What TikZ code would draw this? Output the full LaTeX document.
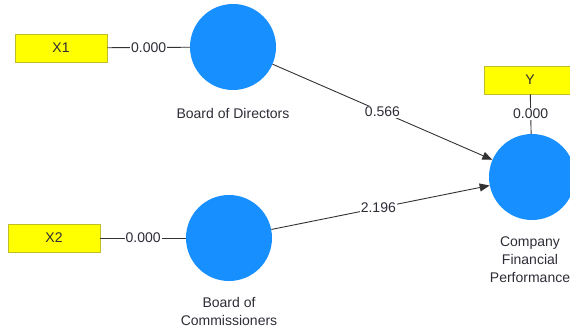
\documentclass[tikz,border=0pt]{standalone}
\usepackage{fontspec}
\setmainfont{Liberation Sans}
\usetikzlibrary{arrows.meta}
\definecolor{lvblue}{RGB}{24,143,255}
\definecolor{mvyellow}{RGB}{255,255,0}
\definecolor{mvedge}{RGB}{190,190,40}
\definecolor{txt}{RGB}{45,45,55}
\definecolor{edge}{RGB}{50,50,50}
\begin{document}
\begin{tikzpicture}[x=1pt,y=-1pt,
  latent/.style={circle,fill=lvblue,minimum size=86pt,inner sep=0pt},
  indicator/.style={rectangle,fill=mvyellow,draw=mvedge,line width=0.8pt,
    minimum width=92pt,minimum height=28pt,inner sep=0pt,font=\fontsize{14}{16}\selectfont,text=txt},
  caption/.style={font=\fontsize{14}{18}\selectfont,text=txt,align=center},
  wlabel/.style={font=\fontsize{14}{16}\selectfont,text=txt,fill=white,inner sep=1pt},
  link/.style={draw=edge,line width=0.9pt},
  path/.style={draw=edge,line width=0.9pt,-{Triangle[length=10pt,width=8pt]}}]
\useasboundingbox (0,0) rectangle (570,328);
% latent variables
\node[latent] (bod) at (233,47) {};
\node[latent] (boc) at (229,238) {};
\node[latent] (cfp) at (532,177) {};
% indicators
\node[indicator] (x1) at (61,48) {X1};
\node[indicator] (x2) at (54,238) {X2};
\node[indicator] (y) at (530,80) {Y};
% captions
\node[caption] (bodc) at (233,113) {Board of Directors};
\node[caption] (bocc) at (229,311) {Board of\\Commissioners};
\node[caption] (cfpc) at (530,260) {Company\\Financial\\Performance};
% outer loadings
\draw[link] (x1) -- node[wlabel] {0.000} (bod);
\draw[link] (x2) -- node[wlabel] {0.000} (boc);
\draw[link] (y) -- node[wlabel,pos=0.5] {0.000} (cfp);
% path coefficients
\draw[path] (bod) -- node[wlabel,pos=0.5] {0.566} (cfp);
\draw[path] (boc) -- node[wlabel,pos=0.49] {2.196} (cfp);
\end{tikzpicture}
\end{document}
